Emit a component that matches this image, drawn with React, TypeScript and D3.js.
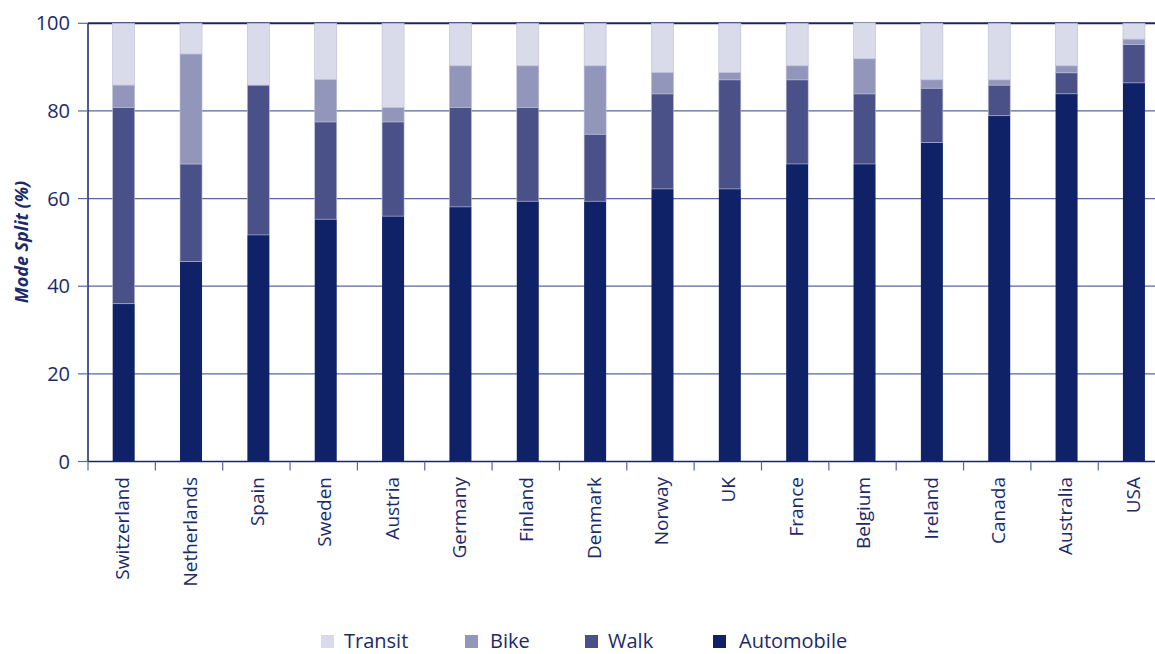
import React from "react";
import * as d3 from "d3";

const countries = ["Switzerland","Netherlands","Spain","Sweden","Austria","Germany","Finland","Denmark","Norway","UK","France","Belgium","Ireland","Canada","Australia","USA"];
const automobile = [36, 45.6, 51.7, 55.3, 56, 58.1, 59.4, 59.4, 62.2, 62.2, 67.9, 67.9, 72.8, 78.9, 83.9, 86.4];
const walk = [44.8, 22.3, 34.2, 22.2, 21.5, 22.7, 21.4, 15.3, 21.7, 24.9, 19.2, 16, 12.4, 7, 4.8, 8.8];
const bike = [5.1, 25.1, 0, 9.7, 3.3, 9.5, 9.5, 15.6, 4.9, 1.7, 3.2, 8, 1.9, 1.2, 1.6, 1.2];
const transit = [14.1, 7, 14.1, 12.8, 19.2, 9.7, 9.7, 9.7, 11.2, 11.2, 9.7, 8.2, 12.9, 12.9, 9.7, 3.6];
const yTicks = [0, 20, 40, 60, 80, 100];
const seriesNames = ["Automobile", "Walk", "Bike", "Transit"];
const legendOrder = ["Transit", "Bike", "Walk", "Automobile"];

const colors: Record<string, string> = {
  Automobile: "#0f2268",
  Walk: "#4a5088",
  Bike: "#9396bb",
  Transit: "#d9dbea",
};
const textColor = "#1b2a6b";
const font = "'Open Sans', sans-serif";

export default function App() {
  const W = 1155, H = 654;
  const x0 = 88;
  const step = 67.35;
  const x = d3.scaleBand<string>().domain(countries).range([x0, x0 + step * countries.length]).paddingInner(0).paddingOuter(0);
  const y = d3.scaleLinear().domain([0, 100]).range([461.5, 23.3]);
  const barW = 22;

  const rows = countries.map((c, i) => ({
    country: c,
    Automobile: automobile[i],
    Walk: walk[i],
    Bike: bike[i],
    Transit: transit[i],
  }));
  const stack = d3.stack<any>().keys(seriesNames)(rows);

  const legendX = [321, 465, 585, 713];
  const legendTextX = [344, 490, 608, 739];

  return (
    <svg width={W} height={H} style={{ position: "absolute", left: 0, top: 0, background: "#fff" }} fontFamily={font}>
      {yTicks.map((t) => (
        <line key={"g" + t} x1={x0} x2={W} y1={y(t)} y2={y(t)} stroke={t === 100 ? "#1b2466" : "#5a66a0"} strokeWidth={t === 100 ? 2 : 1.2} />
      ))}
      {stack.map((s) => (
        <g key={s.key}>
          {s.map((d, i) => {
            const h = y(d[0]) - y(d[1]);
            if (h <= 0) return null;
            const cx = (x(countries[i]) as number) + x.bandwidth() / 2 + 2;
            return (
              <rect
                key={i}
                x={cx - barW / 2}
                y={y(d[1])}
                width={barW}
                height={h}
                fill={colors[s.key]}
                stroke={s.key === "Automobile" ? "none" : "#b9bcd6"}
                strokeWidth={s.key === "Automobile" ? 0 : 0.6}
              />
            );
          })}
        </g>
      ))}
      <line x1={x0} x2={x0} y1={y(100)} y2={y(0)} stroke="#1b2466" strokeWidth={1.5} />
      {yTicks.map((t) => (
        <g key={"yt" + t}>
          <line x1={x0 - 10} x2={x0} y1={y(t)} y2={y(t)} stroke="#5a66a0" strokeWidth={1.2} />
          <text x={70} y={y(t)} dy="0.35em" textAnchor="end" fontSize={20} fill={textColor}>{t}</text>
        </g>
      ))}
      <line x1={x0} x2={W} y1={y(0)} y2={y(0)} stroke="#1b2466" strokeWidth={1.5} />
      {countries.map((c, i) => {
        const bx = x(c) as number;
        return <line key={"xt" + i} x1={bx} x2={bx} y1={y(0)} y2={y(0) + 9} stroke="#5a66a0" strokeWidth={1.2} />;
      })}
      {countries.map((c) => {
        const cx = (x(c) as number) + x.bandwidth() / 2 + 1;
        return (
          <text key={"xl" + c} transform={`translate(${cx},477) rotate(-90)`} textAnchor="end" dy="0.35em" fontSize={19} fill={textColor}>
            {c}
          </text>
        );
      })}
      <text transform={`translate(22,242) rotate(-90)`} textAnchor="middle" dy="0.35em" fontSize={18} fontWeight="bold" fontStyle="italic" fill={textColor}>
        Mode Split (%)
      </text>
      {legendOrder.map((k, i) => (
        <g key={"lg" + k}>
          <rect x={legendX[i]} y={635} width={13} height={13} fill={colors[k]} />
          <text x={legendTextX[i]} y={648} fontSize={20} fill={textColor}>{k}</text>
        </g>
      ))}
    </svg>
  );
}
